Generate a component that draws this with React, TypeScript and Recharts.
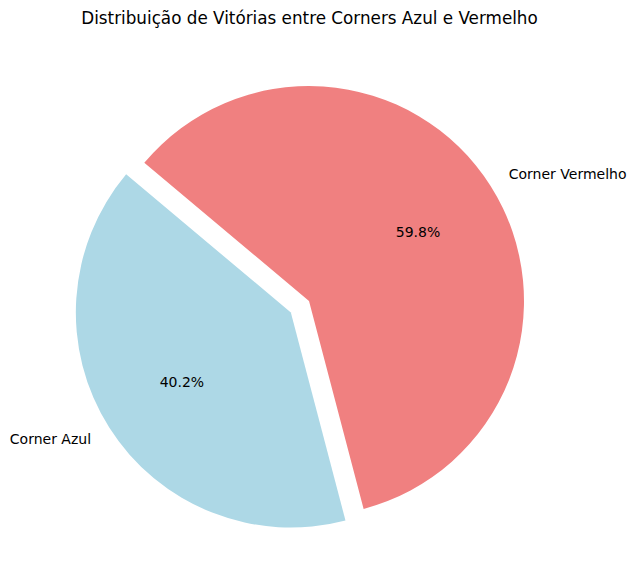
import React from 'react';
import { PieChart, Pie, Cell, Sector } from 'recharts';

const labels = ['Corner Azul', 'Corner Vermelho'];
const shares = [40.2, 59.8];
const explode = [0.1, 0];
const colors = ['#add8e6', '#f08080'];

const data = labels.map((name, i) => ({ name, value: shares[i] }));

const RAD = Math.PI / 180;
const font = 'DejaVu Sans, sans-serif';

// shift a slice outward along its middle angle, like matplotlib's explode
function offsetFor(name: string, midAngle: number, r: number) {
  const i = labels.indexOf(name);
  const d = (explode[i] || 0) * r;
  return { dx: d * Math.cos(-midAngle * RAD), dy: d * Math.sin(-midAngle * RAD) };
}

function ExplodedSector(props: any) {
  const name = props.name ?? props.payload?.name;
  const { dx, dy } = offsetFor(name, props.midAngle, props.outerRadius);
  return (
    <g transform={`translate(${dx},${dy})`}>
      <Sector {...props} />
    </g>
  );
}

function renderLabel(props: any) {
  const { cx, cy, midAngle, outerRadius, name, value } = props;
  const { dx, dy } = offsetFor(name, midAngle, outerRadius);
  const cos = Math.cos(-midAngle * RAD);
  const sin = Math.sin(-midAngle * RAD);
  const ox = cx + dx;
  const oy = cy + dy;
  return (
    <g>
      <text
        x={ox + 1.1 * outerRadius * cos}
        y={oy + 1.1 * outerRadius * sin}
        textAnchor={cos < 0 ? 'end' : 'start'}
        dominantBaseline="central"
        fontSize={14}
        fontFamily={font}
        fill="#000"
      >
        {name}
      </text>
      <text
        x={ox + 0.6 * outerRadius * cos}
        y={oy + 0.6 * outerRadius * sin}
        textAnchor="middle"
        dominantBaseline="central"
        fontSize={14}
        fontFamily={font}
        fill="#000"
      >
        {`${Number(value).toFixed(1)}%`}
      </text>
    </g>
  );
}

export default function App() {
  return (
    <div style={{ position: 'absolute', left: 0, top: 0, width: 635, height: 581, background: '#fff' }}>
      <div
        style={{
          position: 'absolute',
          left: 0,
          width: 619,
          top: 8,
          textAlign: 'center',
          fontFamily: font,
          fontSize: 16.8,
          color: '#000',
        }}
      >
        Distribuição de Vitórias entre Corners Azul e Vermelho
      </div>
      <PieChart width={635} height={581} margin={{ top: 0, right: 0, bottom: 0, left: 0 }}>
        <Pie
          data={data}
          dataKey="value"
          nameKey="name"
          cx={309}
          cy={301}
          outerRadius={215}
          startAngle={140}
          endAngle={500}
          stroke="none"
          label={renderLabel}
          labelLine={false}
          shape={ExplodedSector}
          isAnimationActive={false}
        >
          {data.map((d, i) => (
            <Cell key={d.name} fill={colors[i]} />
          ))}
        </Pie>
      </PieChart>
    </div>
  );
}
